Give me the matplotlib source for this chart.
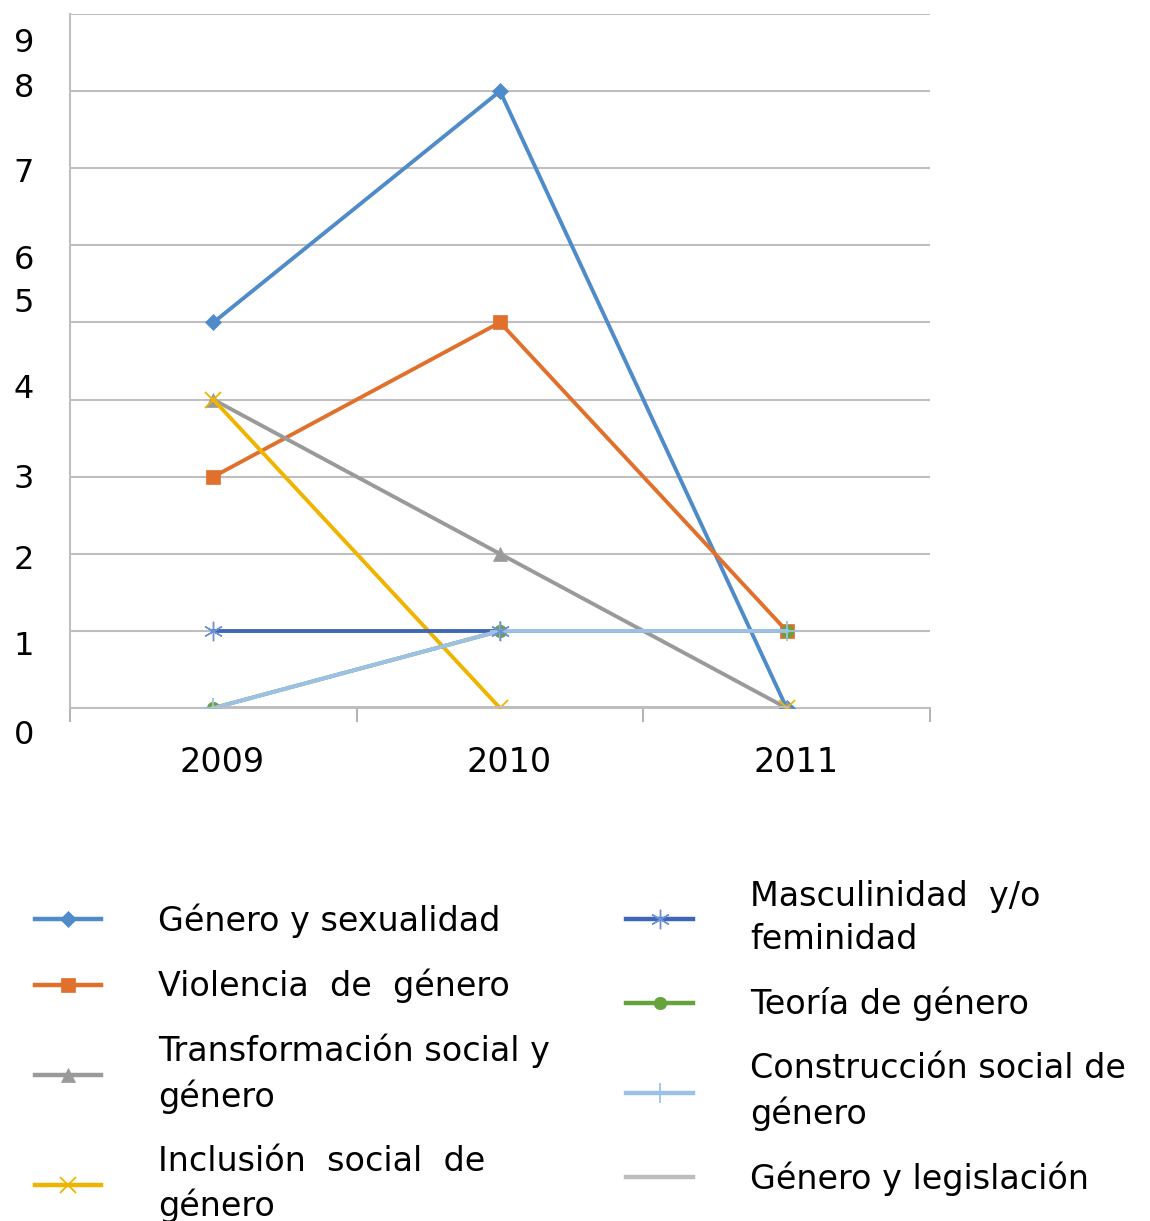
import matplotlib.pyplot as plt
import matplotlib.transforms as mtransforms
from matplotlib.lines import Line2D

# datos
anios = ['2009', '2010', '2011']
genero_sexualidad = [5, 8, 0]
violencia_genero = [3, 5, 1]
transformacion_social = [4, 2, 0]
inclusion_social = [4, 0, 0]
masculinidad_feminidad = [1, 1, 1]
teoria_genero = [0, 1, 1]
construccion_social = [0, 1, 1]
genero_legislacion = [0, 0, 0]
y_ticks = list(range(0, 10))

plt.rcParams['font.family'] = ['DejaVu Sans']

fig = plt.figure(figsize=(11.5, 12.21), dpi=100)
ax = fig.add_axes([0.0609, 0.4201, 0.7478, 0.5684])

x = range(len(anios))
lw = 2.8
series = [
    ('Género y sexualidad', genero_sexualidad, '#4F8BC9', 'D', 8),
    ('Violencia  de  género', violencia_genero, '#E0702C', 's', 10),
    ('Transformación social y\ngénero', transformacion_social, '#9A9A9A', '^', 10),
    ('Inclusión  social  de\ngénero', inclusion_social, '#F0B400', 'x', 12),
    ('Masculinidad  y/o\nfeminidad', masculinidad_feminidad, '#3F67B8', '*', 0),
    ('Teoría de género', teoria_genero, '#66A33C', 'o', 9),
    ('Construcción social de\ngénero', construccion_social, '#9DC1E6', '+', 14),
    ('Género y legislación', genero_legislacion, '#BDBDBD', None, 0),
]

handles = []
for nombre, vals, color, mk, ms in series:
    ax.plot(x, vals, color=color, lw=lw, marker=mk, markersize=ms,
            markeredgewidth=1.3 if mk in ('x', '+') else 0.5, zorder=3)
    if nombre.startswith('Masculinidad'):
        # asterisco fino como en la leyenda
        ax.plot(x[:2], vals[:2], ls='none', marker=(6, 2, 0), markersize=14,
                markeredgecolor='#6C8FD6', markeredgewidth=1.0, zorder=4)
        h = Line2D([], [], color=color, lw=lw + 0.4, marker=(6, 2, 0), markersize=14,
                   markeredgecolor='#6C8FD6', markeredgewidth=1.0)
    else:
        h = Line2D([], [], color=color, lw=lw + 0.4, marker=mk, markersize=ms,
                   markeredgewidth=1.3 if mk in ('x', '+') else 0.5)
    handles.append(h)

ax.set_xlim(-0.5, 2.5)
ax.set_ylim(0, 9)
ax.set_yticks(y_ticks)
ax.set_yticklabels([str(v) for v in y_ticks], fontsize=23)
ax.set_xticks(list(x))
ax.set_xticklabels(anios, fontsize=24)
ax.set_xticks([-0.5, 0.5, 1.5, 2.5], minor=True)
ax.tick_params(axis='x', which='major', length=0, pad=27)
ax.tick_params(axis='x', which='minor', length=10, color='#A6A6A6', width=1.2)
ax.tick_params(axis='y', length=0, pad=26)
ax.grid(axis='y', color='#BFBFBF', lw=1.5, zorder=0)

for lado in ('top', 'right'):
    ax.spines[lado].set_visible(False)
for lado in ('left', 'bottom'):
    ax.spines[lado].set_color('#BFBFBF')
    ax.spines[lado].set_linewidth(1.5)

# las etiquetas del eje y están desplazadas en el original (px, + = arriba)
desplaz_y = [-24, -12, -3, 1, 14, 22, -12, -2, 6, -26]
for lab, dy in zip(ax.get_yticklabels(), desplaz_y):
    lab.set_transform(lab.get_transform() +
                      mtransforms.ScaledTranslation(0, dy / 100, fig.dpi_scale_trans))
for lab in ax.get_xticklabels():
    lab.set_transform(lab.get_transform() +
                      mtransforms.ScaledTranslation(0.09, 0, fig.dpi_scale_trans))

nombres = [s[0] for s in series]
leg = fig.legend(handles, nombres, ncol=2, loc='upper left',
                 bbox_to_anchor=(0.004, 0.304), frameon=False, fontsize=24,
                 handlelength=2.0, handletextpad=1.7, columnspacing=2.3,
                 labelspacing=0.92)
for t in leg.get_texts():
    t.set_linespacing(1.4)

fig.savefig('out.png', dpi=100)
